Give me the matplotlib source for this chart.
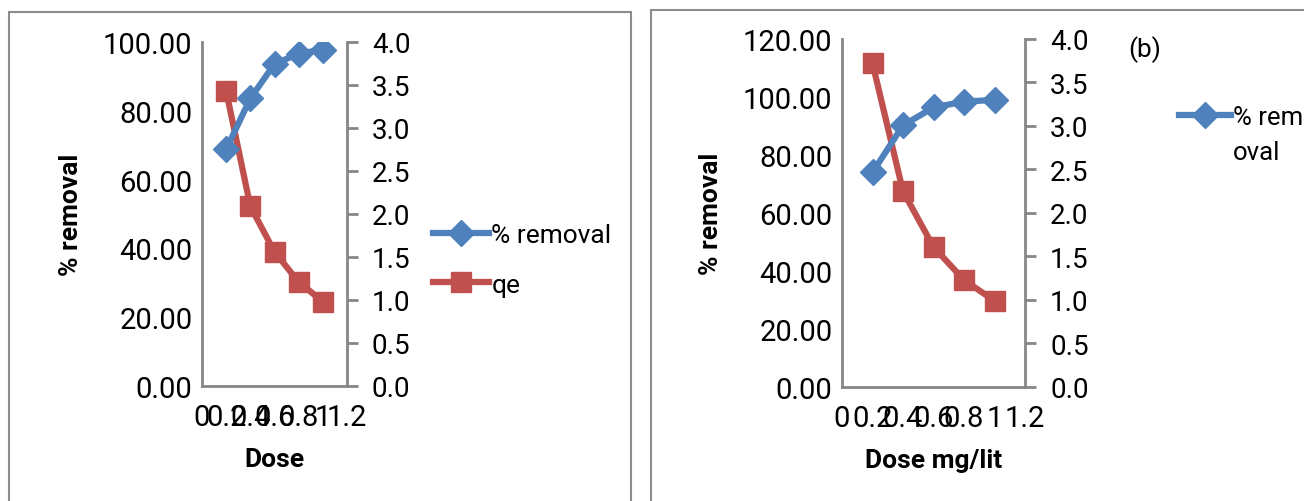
import matplotlib
matplotlib.use("Agg")
import matplotlib.pyplot as plt
from matplotlib.patches import Rectangle

plt.rcParams['font.family'] = ['Roboto', 'DejaVu Sans']

fsize = 21
lsize = 19
blue = '#4F81BD'
red = '#C0504D'
grey = '#868686'

dose = [0.2, 0.4, 0.6, 0.8, 1.0]
xticks = [0, 0.2, 0.4, 0.6, 0.8, 1.0, 1.2]
xticklabels = ['0', '0.2', '0.4', '0.6', '0.8', '1', '1.2']

# panel (a)
removal_a = [68.8, 83.6, 93.6, 96.6, 97.8]
qe_a = [3.43, 2.09, 1.56, 1.21, 0.98]
# panel (b)
removal_b = [74.0, 90.2, 96.4, 98.4, 99.0]
qe_b = [3.72, 2.25, 1.61, 1.23, 0.99]

W, H = 1304, 502
fig = plt.figure(figsize=(W / 100, H / 100), dpi=100)


def px_axes(x0, y0, x1, y1):
    return fig.add_axes([x0 / W, 1 - y1 / H, (x1 - x0) / W, (y1 - y0) / H])


def panel(box, removal, qe, ymax, yticks, xlabel):
    ax1 = px_axes(*box)
    ax2 = ax1.twinx()
    l1, = ax1.plot(dose, removal, '-', marker='D', ms=13, color=blue, lw=4.5,
                   markeredgecolor=blue, label='% removal', zorder=3)
    l2, = ax2.plot(dose, qe, '-', marker='s', ms=15, color=red, lw=4.5,
                   markeredgecolor=red, label='qe', zorder=3)
    ax1.set_zorder(ax2.get_zorder() + 1)
    ax1.patch.set_visible(False)

    ax1.set_xlim(0, 1.2)
    ax1.set_xticks(xticks)
    ax1.set_xticklabels(xticklabels, fontsize=fsize)
    ax1.set_ylim(0, ymax)
    ax1.set_yticks(yticks)
    ax1.set_yticklabels(['%.2f' % v for v in yticks], fontsize=fsize)
    ax2.set_ylim(0, 4)
    r_ticks = [0, 0.5, 1.0, 1.5, 2.0, 2.5, 3.0, 3.5, 4.0]
    ax2.set_yticks(r_ticks)
    ax2.set_yticklabels(['%.1f' % v for v in r_ticks], fontsize=fsize - 1)

    ax1.tick_params(axis='y', length=0, pad=7)
    ax1.tick_params(axis='x', length=0, pad=12)
    ax2.tick_params(axis='y', direction='out', length=8, width=2, color=grey, pad=10)
    for ax in (ax1, ax2):
        ax.spines['top'].set_visible(False)
        for s in ('left', 'right', 'bottom'):
            ax.spines[s].set_color(grey)
            ax.spines[s].set_linewidth(2)
    ax1.spines['right'].set_visible(False)
    ax2.spines['left'].set_visible(False)
    ax2.spines['bottom'].set_visible(False)

    ax1.set_ylabel('% removal', fontsize=lsize, fontweight='bold', labelpad=14)
    ax1.set_xlabel(xlabel, fontsize=lsize, fontweight='bold', labelpad=12)
    return ax1, ax2, l1, l2


# (a)
a1, a2, la1, la2 = panel((202, 43, 347, 387), removal_a, qe_a, 100,
                         [0, 20, 40, 60, 80, 100], 'Dose')
fig.legend(handles=[la1, la2], labels=['% removal', 'qe'], loc='center left',
           bbox_to_anchor=(428 / W, 1 - 261 / H), frameon=False, fontsize=lsize,
           handlelength=2.1, handletextpad=0.1, labelspacing=0.95,
           borderpad=0.2, borderaxespad=0)

# (b)
b1, b2, lb1, lb2 = panel((842, 40, 1025, 388), removal_b, qe_b, 120,
                         [0, 20, 40, 60, 80, 100, 120], 'Dose mg/lit')
fig.legend(handles=[lb1], labels=['% rem'], loc='center left',
           bbox_to_anchor=(1174 / W, 1 - 118 / H), frameon=False, fontsize=lsize - 0.5,
           handlelength=2.0, handletextpad=0.1, borderpad=0.2, borderaxespad=0)
fig.text(1233 / W, 1 - 153 / H, 'oval', fontsize=lsize - 0.5, va='center', ha='left')
fig.text(1128 / W, 1 - 50 / H, '(b)', fontsize=lsize, va='center', ha='left')

# chart area borders
fig.add_artist(Rectangle((9 / W, -0.1), 622 / W, 1.1 - 13 / H, transform=fig.transFigure,
                         fill=False, ec='#8c8c8c', lw=1.5))
fig.add_artist(Rectangle((651 / W, -0.1), 700 / W, 1.1 - 11 / H, transform=fig.transFigure,
                         fill=False, ec='#8c8c8c', lw=1.5))

fig.savefig('out.png', dpi=100)
